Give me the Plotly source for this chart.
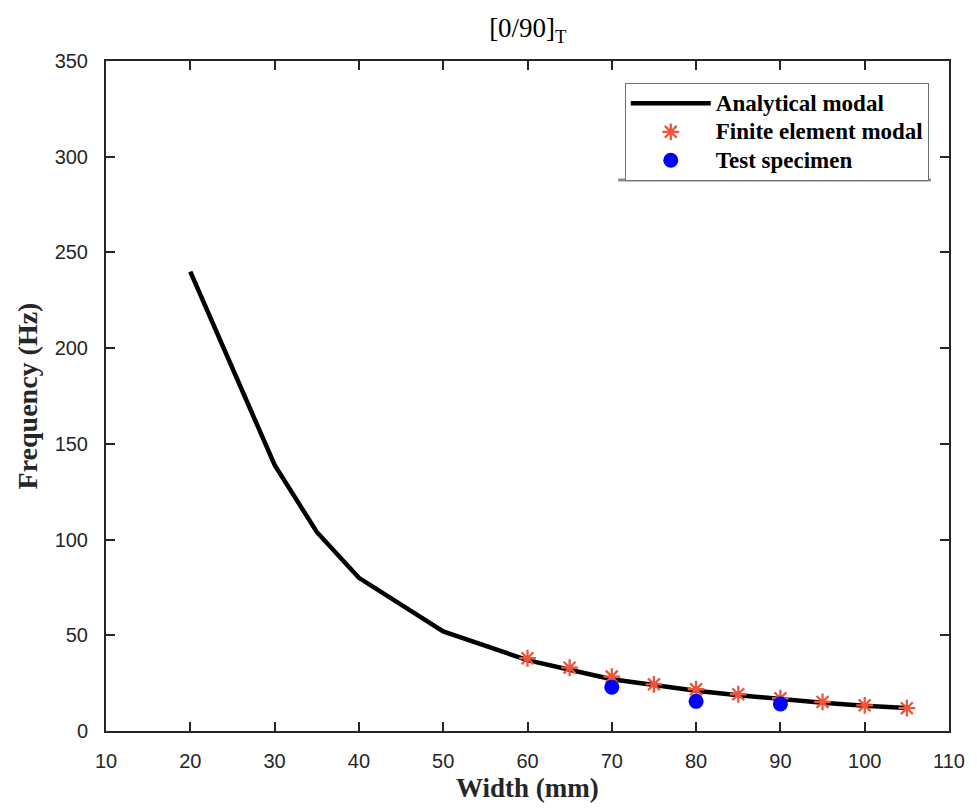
import plotly.graph_objects as go

# Data
width_analytical = [20, 30, 35, 40, 50, 60, 65, 70, 75, 80, 85, 90, 95, 100, 105]
freq_analytical = [240, 139, 104, 80, 52, 37, 32, 27, 24, 21, 18.7, 16.6, 14.8, 13.2, 12]

width_fe = [60, 65, 70, 75, 80, 85, 90, 95, 100, 105]
freq_fe = [38, 33.1, 28.4, 24.4, 21.8, 19.2, 17.1, 15.2, 13.4, 11.9]

width_test = [70, 80, 90]
freq_test = [22.9, 15.5, 14.1]

x_ticks = [10, 20, 30, 40, 50, 60, 70, 80, 90, 100, 110]
y_ticks = [0, 50, 100, 150, 200, 250, 300, 350]


def legend_label(s):
    return '<span style="font-size:23px"><b>' + s + '</b></span>'


fig = go.Figure()
fig.add_trace(go.Scatter(x=width_analytical, y=freq_analytical, mode="lines",
                         name=legend_label("Analytical modal"),
                         line=dict(color="black", width=4.5)))
fig.add_trace(go.Scatter(x=width_fe, y=freq_fe, mode="markers",
                         name=legend_label("Finite element modal"),
                         marker=dict(symbol="asterisk-open", size=14,
                                     line=dict(color="#ff0000", width=2.3))))
fig.add_trace(go.Scatter(x=width_test, y=freq_test, mode="markers",
                         name=legend_label("Test specimen"),
                         marker=dict(symbol="circle", size=15, color="#0000ff")))

axis_common = dict(showgrid=False, zeroline=False, showline=True, linecolor="#262626",
                   linewidth=2, mirror="ticks", ticks="inside", ticklen=9, tickwidth=2,
                   tickcolor="#262626",
                   tickfont=dict(family="Liberation Sans, Arial", size=20, color="#262626"))

serif = "Liberation Serif, Times New Roman"

fig.update_layout(
    width=961, height=795,
    paper_bgcolor="white", plot_bgcolor="white",
    margin=dict(l=98, r=20, t=53, b=72, autoexpand=False),
    title=dict(text="[0/90]<sub>T</sub>", x=0.541, xanchor="center", y=0.975, yanchor="middle",
               font=dict(family=serif, size=27, color="black")),
    xaxis=dict(range=[10, 110], tickvals=x_ticks, ticklabelstandoff=11,
               **axis_common),
    yaxis=dict(range=[0, 350], tickvals=y_ticks, ticklabelstandoff=12,
               title=dict(text="<b>Frequency (Hz)</b>", standoff=9,
                          font=dict(family=serif, size=28, color="#262626")),
               **axis_common),
    legend=dict(x=0.976, y=0.967, xanchor="right", yanchor="top",
                bgcolor="white", bordercolor="#707070", borderwidth=1,
                font=dict(family=serif, size=19.6, color="black"),
                itemwidth=80, tracegroupgap=0),
    showlegend=True,
    shapes=[dict(type="line", xref="paper", yref="paper",
                 x0=0.6075, x1=0.9785, y0=0.8225, y1=0.8225,
                 line=dict(color="#8c8c8c", width=3), layer="above")],
    annotations=[dict(text="<b>Width (mm)</b>", xref="paper", yref="paper",
                      x=0.5, y=-0.0845, xanchor="center", yanchor="middle",
                      showarrow=False,
                      font=dict(family=serif, size=27, color="#262626"))],
)

fig.write_html("out.html")
